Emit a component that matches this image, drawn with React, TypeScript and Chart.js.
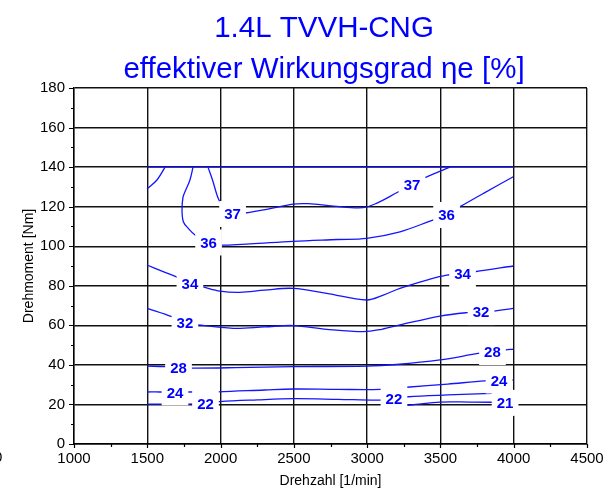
import React, { useEffect, useRef } from "react";
import { Chart, registerables } from "chart.js";

Chart.register(...registerables);

// ---- Texts ----
const titleLines = ["1.4L TVVH-CNG", "effektiver Wirkungsgrad \u03b7e [%]"];
const xAxisTitle = "Drehzahl [1/min]";
const yAxisTitle = "Drehmoment [Nm]";

// ---- Axis ticks ----
const xTickValues = [1000, 1500, 2000, 2500, 3000, 3500, 4000, 4500];
const xTickLabels = ["1000", "1500", "2000", "2500", "3000", "3500", "4000", "4500"];
const yTickValues = [0, 20, 40, 60, 80, 100, 120, 140, 160, 180];
const yTickLabels = ["0", "20", "40", "60", "80", "100", "120", "140", "160", "180"];

// ---- Full-load limit (torque ceiling of the measured map) ----
const limitX = [1500, 4000];
const limitY = [140, 140];

// ---- Small unlabeled arc at low speed ----
const arcX = [1498, 1566, 1621];
const arcY = [129, 133.5, 140];

// ---- Iso-efficiency lines (rpm / Nm) ----
const c37X = [1914, 1945, 1985, 2030, 2082, 2167, 2315, 2494, 2600, 2769, 2972, 3067, 3211, 3306, 3361, 3565];
const c37Y = [140, 133.5, 124, 118.5, 116.3, 116.8, 118.6, 121.3, 121.5, 120.3, 119.5, 121.8, 127.4, 130.9, 133.5, 140];

const c36X = [1812, 1791, 1760, 1744, 1737, 1746, 1780, 1826, 1918, 2010, 2200, 2494, 2800, 2997, 3224, 3429, 3542, 3634, 3800, 3997];
const c36Y = [140, 133.5, 128, 124.9, 118.3, 112.4, 109, 105.7, 101.9, 100.6, 101.2, 102.5, 103.4, 104, 107.3, 112.7, 115.8, 120, 127, 135.1];

const c34X = [1498, 1600, 1703, 1791, 1880, 1996, 2132, 2300, 2494, 2724, 2997, 3110, 3224, 3407, 3543, 3651, 3736, 3997];
const c34Y = [90.5, 87.4, 84.4, 80.9, 79.4, 77.3, 76.7, 77.8, 78.7, 76.2, 72.8, 75.3, 78.7, 82.9, 85.4, 85.9, 87.1, 90];

const c32X = [1500, 1667, 1757, 1848, 2087, 2300, 2496, 2724, 2974, 3100, 3224, 3497, 3679, 3777, 3861, 3997];
const c32Y = [68.6, 64.4, 61.4, 60.2, 58.5, 59.2, 59.9, 58, 56.8, 58, 60.2, 64.7, 66.4, 66.7, 67.2, 68.6];

const c28X = [1500, 1621, 1713, 1803, 2100, 2496, 2997, 3200, 3497, 3770, 3855, 3941, 3997];
const c28Y = [39.4, 39.1, 38.7, 38.4, 38.6, 39.1, 39.4, 40.2, 42.5, 45.9, 46.5, 47.5, 48];

const c24X = [1498, 1587, 1689, 1778, 1985, 2300, 2496, 2800, 3088, 3270, 3550, 3804, 3900, 3997];
const c24Y = [26.3, 26.3, 26.1, 26.3, 26.4, 27.3, 27.8, 27.6, 27.6, 28.7, 30.3, 31.9, 32.1, 32.4];

const c22X = [1498, 1700, 1897, 1996, 2250, 2496, 2800, 3088, 3183, 3281, 3550, 3850, 3997];
const c22Y = [20.2, 20.2, 20.4, 21.4, 22.3, 22.9, 22.6, 22.2, 23.0, 23.9, 24.8, 25.6, 26.0];

const c21X = [3200, 3292, 3497, 3700, 3852, 3941, 4000];
const c21Y = [19.5, 19.7, 21.2, 21.2, 21.1, 20.8, 20.7];

// ---- Inline level labels ----
const labelText = ["37", "36", "34", "32", "28", "24", "22", "37", "36", "34", "32", "28", "24", "22", "21"];
const labelX = [2082, 1918, 1791, 1757, 1713, 1689, 1897, 3306, 3542, 3651, 3777, 3855, 3900, 3183, 3941];
const labelY = [116.3, 101.9, 80.9, 61.4, 38.7, 26.1, 20.4, 130.9, 115.8, 85.9, 66.7, 46.5, 32.1, 23.0, 20.8];

const BLUE = "#0000ff";
const LINE_BLUE = "#1414ff";
const FONT = "Arial, 'Liberation Sans', sans-serif";

const zip = (xs: number[], ys: number[]) => xs.map((x, i) => ({ x, y: ys[i] }));

const contourLines = [
  [limitX, limitY],
  [arcX, arcY],
  [c37X, c37Y],
  [c36X, c36Y],
  [c34X, c34Y],
  [c32X, c32Y],
  [c28X, c28Y],
  [c24X, c24Y],
  [c22X, c22Y],
  [c21X, c21Y],
];

const labelPlugin = {
  id: "contourLabels",
  afterDatasetsDraw(chart: any) {
    const { ctx } = chart;
    const xs = chart.scales.x;
    const ys = chart.scales.y;
    ctx.save();
    ctx.font = `bold 15px ${FONT}`;
    ctx.textAlign = "center";
    ctx.textBaseline = "middle";
    labelText.forEach((t, i) => {
      const px = xs.getPixelForValue(labelX[i]);
      const py = ys.getPixelForValue(labelY[i]);
      const w = ctx.measureText(t).width;
      ctx.fillStyle = "#ffffff";
      ctx.fillRect(px - w / 2 - 5, py - 13, w + 10, 26);
      ctx.fillStyle = BLUE;
      ctx.fillText(t, px, py + 1);
    });
    ctx.restore();
  },
};

const decorPlugin = {
  id: "decor",
  afterDraw(chart: any) {
    const { ctx, chartArea } = chart;
    const xs = chart.scales.x;
    const ys = chart.scales.y;
    ctx.save();

    // outer tick marks, major and minor
    ctx.strokeStyle = "#000";
    ctx.lineWidth = 1.2;
    ctx.beginPath();
    for (let v = 0; v <= 180; v += 10) {
      const py = Math.round(ys.getPixelForValue(v)) + 0.5;
      const len = v % 20 === 0 ? 5 : 3;
      ctx.moveTo(chartArea.left - len, py);
      ctx.lineTo(chartArea.left, py);
    }
    for (let v = 1000; v <= 4500; v += 250) {
      const px = Math.round(xs.getPixelForValue(v)) + 0.5;
      const len = v % 500 === 0 ? 4 : 3;
      ctx.moveTo(px, chartArea.bottom);
      ctx.lineTo(px, chartArea.bottom + len);
    }
    ctx.stroke();

    // titles
    ctx.fillStyle = BLUE;
    ctx.font = `29.5px ${FONT}`;
    ctx.textAlign = "center";
    ctx.textBaseline = "alphabetic";
    ctx.fillText(titleLines[0], 324, 37);
    ctx.fillText(titleLines[1], 324, 78);

    // axis titles
    ctx.fillStyle = "#000";
    ctx.font = `14px ${FONT}`;
    ctx.textBaseline = "middle";
    ctx.fillText(xAxisTitle, (chartArea.left + chartArea.right) / 2, 481);
    ctx.save();
    ctx.translate(29, (chartArea.top + chartArea.bottom) / 2);
    ctx.rotate(-Math.PI / 2);
    ctx.fillText(yAxisTitle, 0, 0);
    ctx.restore();

    // clipped digit at the left margin
    ctx.font = `15px ${FONT}`;
    ctx.textAlign = "left";
    ctx.fillText("0", -6, 458);

    ctx.restore();
  },
};

export default function App() {
  const canvasRef = useRef<HTMLCanvasElement | null>(null);

  useEffect(() => {
    const canvas = canvasRef.current;
    if (!canvas) return;

    const datasets = contourLines.map(([xs, ys]) => ({
      data: zip(xs, ys),
      showLine: true,
      borderColor: LINE_BLUE,
      borderWidth: 1.3,
      pointRadius: 0,
      pointHoverRadius: 0,
      tension: 0.35,
      fill: false,
    }));

    const chart = new Chart(canvas, {
      type: "scatter",
      data: { datasets },
      options: {
        responsive: false,
        animation: false,
        devicePixelRatio: 1,
        layout: { padding: { top: 88, right: 28, bottom: 0, left: 0 } },
        plugins: {
          legend: { display: false },
          title: { display: false },
          tooltip: { enabled: false },
        },
        scales: {
          x: {
            type: "linear",
            min: 1000,
            max: 4500,
            afterBuildTicks: (s: any) => {
              s.ticks = xTickValues.map((v) => ({ value: v }));
            },
            afterFit: (s: any) => {
              s.height = 48;
            },
            ticks: {
              padding: 6,
              color: "#000",
              font: { family: FONT, size: 15 },
              maxRotation: 0,
              autoSkip: false,
              callback: (v: any) => xTickLabels[xTickValues.indexOf(Number(v))] ?? "",
            },
            grid: { color: "#111", lineWidth: 1.4, drawTicks: false },
            border: { color: "#000", width: 1.4 },
          },
          y: {
            type: "linear",
            min: 0,
            max: 180,
            afterBuildTicks: (s: any) => {
              s.ticks = yTickValues.map((v) => ({ value: v }));
            },
            afterFit: (s: any) => {
              s.width = 74;
            },
            ticks: {
              padding: 9,
              color: "#000",
              font: { family: FONT, size: 15 },
              autoSkip: false,
              callback: (v: any) => yTickLabels[yTickValues.indexOf(Number(v))] ?? "",
            },
            grid: { color: "#111", lineWidth: 1.4, drawTicks: false },
            border: { color: "#000", width: 1.4 },
          },
        },
      },
      plugins: [labelPlugin, decorPlugin],
    } as any);

    return () => chart.destroy();
  }, []);

  return (
    <div style={{ position: "fixed", left: 0, top: 0, width: 615, height: 492, background: "#fff" }}>
      <canvas ref={canvasRef} width={615} height={492} />
    </div>
  );
}
